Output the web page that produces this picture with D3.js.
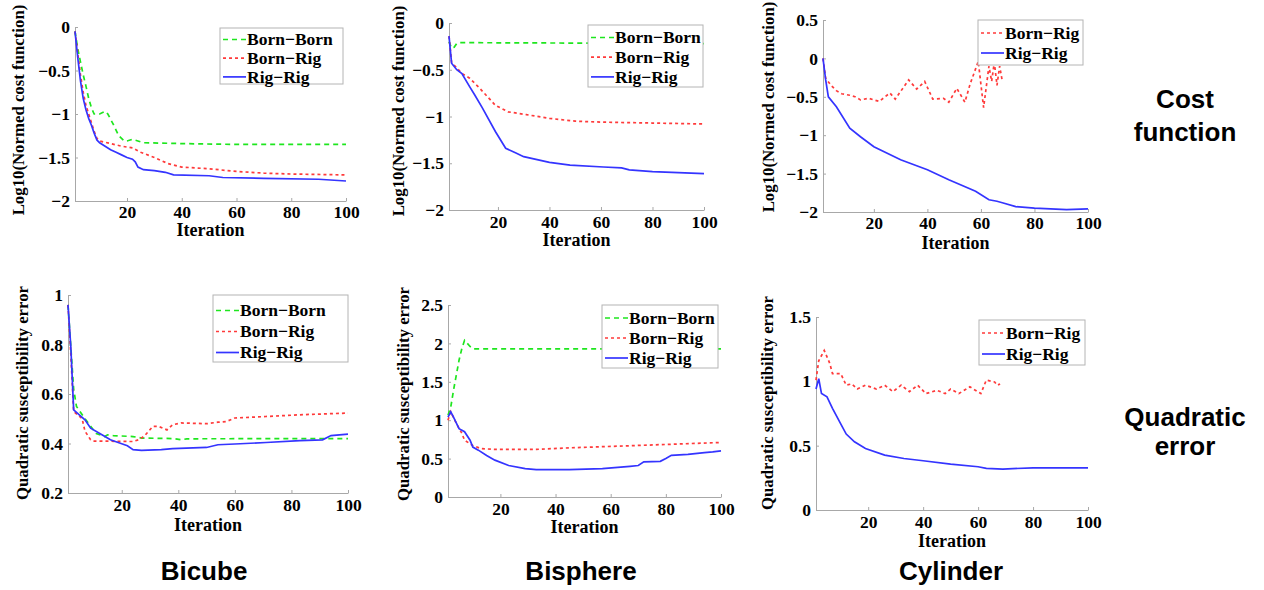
<!DOCTYPE html>
<html>
<head>
<meta charset="utf-8">
<script src="https://cdn.jsdelivr.net/npm/d3@7"></script>
<style>
  body { margin: 0; background: #fff; }
  svg { display: block; }
  .tick text { font-family: "Liberation Serif", serif; font-weight: bold; font-size: 17.5px; fill: #000; }
  .axis path, .axis line { stroke: #a8a8a8; }
</style>
</head>
<body>
<svg id="fig" width="1264" height="590"></svg>
<script>
// ---- data (iteration, value) ----
var bicubeCostBB = [[1,-0.05],[2,-0.25],[3,-0.4],[4,-0.55],[5,-0.68],[6,-0.82],[7,-0.93],[8,-1.0],[10,-1.0],[12,-0.97],[13,-1.0],[15,-1.12],[17,-1.25],[19,-1.31],[20,-1.31],[22,-1.29],[26,-1.33],[40,-1.34],[60,-1.35],[100,-1.35]];
var bicubeCostBR = [[1,-0.05],[2,-0.3],[3,-0.55],[4,-0.75],[5,-0.9],[6,-1.0],[7,-1.1],[8,-1.2],[9,-1.28],[10,-1.31],[14,-1.34],[18,-1.37],[22,-1.39],[25,-1.44],[30,-1.5],[35,-1.57],[40,-1.61],[50,-1.63],[60,-1.66],[70,-1.68],[80,-1.69],[100,-1.7]];
var bicubeCostRR = [[1,-0.05],[2,-0.35],[3,-0.62],[4,-0.82],[5,-0.95],[6,-1.05],[7,-1.13],[8,-1.22],[9,-1.3],[10,-1.33],[12,-1.37],[14,-1.41],[16,-1.44],[18,-1.47],[20,-1.5],[22,-1.52],[23,-1.55],[24,-1.61],[26,-1.64],[30,-1.65],[34,-1.67],[37,-1.7],[50,-1.71],[55,-1.73],[70,-1.74],[90,-1.75],[100,-1.77]];

var bisphereCostBB = [[1,-0.2],[2,-0.27],[3,-0.26],[4,-0.22],[5,-0.21],[100,-0.22]];
var bisphereCostBR = [[1,-0.14],[2,-0.42],[4,-0.48],[6,-0.54],[9,-0.59],[13,-0.7],[17,-0.82],[19,-0.88],[24,-0.95],[31,-0.98],[40,-1.02],[50,-1.05],[60,-1.06],[80,-1.07],[100,-1.08]];
var bisphereCostRR = [[1,-0.14],[2,-0.43],[4,-0.5],[6,-0.54],[9,-0.68],[11,-0.77],[14,-0.91],[19,-1.16],[23,-1.34],[27,-1.39],[30,-1.43],[40,-1.49],[48,-1.52],[61,-1.54],[68,-1.55],[71,-1.57],[80,-1.59],[100,-1.61]];

var cylinderCostBR = [[1,0],[2,-0.26],[4,-0.35],[6,-0.42],[8,-0.46],[11,-0.48],[13,-0.5],[15,-0.54],[18,-0.52],[22,-0.56],[26,-0.45],[28,-0.53],[33,-0.28],[36,-0.4],[39,-0.3],[42,-0.53],[46,-0.52],[48,-0.57],[51,-0.39],[54,-0.57],[56,-0.33],[59,-0.04],[61,-0.64],[63,-0.1],[64,-0.3],[65,-0.05],[66,-0.35],[67,-0.1],[68,-0.3]];
var cylinderCostRR = [[1,0],[2,-0.28],[3,-0.5],[6,-0.63],[11,-0.91],[15,-1.02],[20,-1.15],[30,-1.32],[40,-1.45],[48,-1.58],[58,-1.73],[63,-1.84],[66,-1.86],[68,-1.88],[73,-1.93],[80,-1.95],[86,-1.96],[92,-1.97],[100,-1.96]];

var bicubeErrBB = [[1,0.96],[3,0.62],[4,0.55],[7,0.5],[9,0.47],[11,0.44],[14,0.428],[15,0.435],[17,0.432],[24,0.428],[27,0.422],[38,0.42],[41,0.415],[43,0.419],[100,0.42]];
var bicubeErrBR = [[1,0.96],[2,0.76],[3,0.53],[6,0.5],[7,0.45],[9,0.415],[10,0.41],[24,0.408],[26,0.415],[28,0.43],[31,0.469],[33,0.469],[36,0.455],[38,0.476],[41,0.483],[50,0.48],[54,0.486],[57,0.489],[60,0.503],[71,0.509],[83,0.516],[100,0.523]];
var bicubeErrRR = [[1,0.96],[2,0.79],[3,0.536],[5,0.516],[7,0.496],[9,0.462],[13,0.435],[16,0.415],[20,0.399],[22,0.391],[24,0.375],[27,0.372],[34,0.375],[38,0.379],[50,0.384],[54,0.395],[60,0.398],[71,0.404],[83,0.412],[91,0.415],[94,0.432],[100,0.438]];

var bisphereErrBB = [[1,1.065],[2,1.17],[3,1.39],[5,1.78],[6,1.93],[7,2.04],[9,1.96],[10,1.93],[100,1.93]];
var bisphereErrBR = [[1,1.0],[2,1.11],[4,0.96],[6,0.83],[7,0.74],[10,0.67],[13,0.63],[18,0.62],[33,0.62],[45,0.64],[69,0.67],[100,0.71]];
var bisphereErrRR = [[1,1.04],[2,1.11],[3,1.04],[5,0.89],[7,0.85],[9,0.74],[10,0.65],[12,0.61],[15,0.54],[18,0.48],[23,0.41],[29,0.37],[33,0.357],[45,0.357],[57,0.37],[67,0.4],[70,0.41],[72,0.457],[78,0.465],[80,0.5],[82,0.543],[88,0.556],[94,0.578],[97,0.587],[100,0.6]];

var cylinderErrBR = [[1,1.01],[2,1.16],[4,1.24],[6,1.14],[7,1.06],[10,1.06],[12,0.97],[14,0.98],[16,0.94],[19,0.97],[23,0.94],[26,0.97],[29,0.92],[32,0.97],[35,0.92],[38,0.97],[41,0.905],[45,0.93],[48,0.905],[50,0.94],[53,0.905],[57,0.957],[61,0.905],[63,1.01],[66,0.995],[67,0.97],[68,0.98]];
var cylinderErrRR = [[1,0.94],[2,1.02],[3,0.905],[5,0.88],[7,0.79],[10,0.67],[12,0.59],[15,0.53],[19,0.478],[26,0.427],[33,0.4],[40,0.383],[50,0.357],[60,0.336],[63,0.323],[69,0.318],[80,0.328],[100,0.328]];

var xTicks = [20, 40, 60, 80, 100];
var costTicks = [-2, -1.5, -1, -0.5, 0];
var cylCostTicks = [-2, -1.5, -1, -0.5, 0, 0.5];
var bicubeErrTicks = [0.2, 0.4, 0.6, 0.8, 1];
var bisphereErrTicks = [0, 0.5, 1, 1.5, 2, 2.5];
var cylErrTicks = [0, 0.5, 1, 1.5];

var colNames = ["Bicube", "Bisphere", "Cylinder"];
var rowNames = [["Cost", "function"], ["Quadratic", "error"]];

var styles = {
  "Born\u2212Born": { color: "#1ee61e", dash: "5,4" },
  "Born\u2212Rig":  { color: "#ff3a3a", dash: "3,3" },
  "Rig\u2212Rig":   { color: "#3434ff", dash: null }
};

var costLabel = "Log10(Normed cost function)";
var errLabel = "Quadratic susceptibility error";

// tickB: baseline of x tick labels, itB: baseline of "Iteration"
// leg: box x, y, w, h, first row centre, row step
var panels = [
  { x0: 75, x1: 346, yTop: 27, yBot: 201, dom: [-2, 0], ticks: costTicks, ylab: costLabel, lx: 18, ly: 110, tickB: 218, itB: 236,
    leg: [220, 28, 123, 56, 39.5, 18.7], series: [["Born\u2212Born", bicubeCostBB], ["Born\u2212Rig", bicubeCostBR], ["Rig\u2212Rig", bicubeCostRR]] },
  { x0: 449, x1: 704, yTop: 23, yBot: 210, dom: [-2, 0], ticks: costTicks, ylab: costLabel, lx: 398, ly: 111, tickB: 228, itB: 246,
    leg: [588, 25, 115, 62, 37.5, 19.7], series: [["Born\u2212Born", bisphereCostBB], ["Born\u2212Rig", bisphereCostBR], ["Rig\u2212Rig", bisphereCostRR]] },
  { x0: 823, x1: 1088, yTop: 20, yBot: 212, dom: [-2, 0.5], ticks: cylCostTicks, ylab: costLabel, lx: 768, ly: 107, tickB: 229, itB: 249,
    leg: [978, 20, 105, 45, 33, 20], series: [["Born\u2212Rig", cylinderCostBR], ["Rig\u2212Rig", cylinderCostRR]] },
  { x0: 68, x1: 348, yTop: 295, yBot: 493, dom: [0.2, 1], ticks: bicubeErrTicks, ylab: errLabel, lx: 22, ly: 393, tickB: 511, itB: 531,
    leg: [213, 295, 135, 67, 310.5, 21], series: [["Born\u2212Born", bicubeErrBB], ["Born\u2212Rig", bicubeErrBR], ["Rig\u2212Rig", bicubeErrRR]] },
  { x0: 448, x1: 721, yTop: 305, yBot: 497, dom: [0, 2.5], ticks: bisphereErrTicks, ylab: errLabel, lx: 403, ly: 394, tickB: 515, itB: 533,
    leg: [602, 305, 116, 63, 318, 20], series: [["Born\u2212Born", bisphereErrBB], ["Born\u2212Rig", bisphereErrBR], ["Rig\u2212Rig", bisphereErrRR]] },
  { x0: 816, x1: 1088, yTop: 317, yBot: 510, dom: [0, 1.5], ticks: cylErrTicks, ylab: errLabel, lx: 767, ly: 403, tickB: 528, itB: 547,
    leg: [979, 320, 106, 45, 333, 21], series: [["Born\u2212Rig", cylinderErrBR], ["Rig\u2212Rig", cylinderErrRR]] }
];

var svg = d3.select("#fig");
var fmt = function(d) { return String(d).replace("-", "\u2212"); };

panels.forEach(function(p) {
  var x = d3.scaleLinear().domain([1, 100]).range([p.x0, p.x1]);
  var y = d3.scaleLinear().domain(p.dom).range([p.yBot, p.yTop]);
  var g = svg.append("g");

  var xa = g.append("g").attr("class", "axis")
    .attr("transform", "translate(0," + p.yBot + ")")
    .call(d3.axisBottom(x).tickValues(xTicks).tickSize(-3).tickSizeOuter(0).tickPadding(p.tickB - p.yBot));
  xa.selectAll("text").attr("dy", "0");

  g.append("g").attr("class", "axis")
    .attr("transform", "translate(" + p.x0 + ",0)")
    .call(d3.axisLeft(y).tickValues(p.ticks).tickFormat(fmt).tickSize(-3).tickSizeOuter(0).tickPadding(5));

  g.append("text")
    .attr("x", (p.x0 + p.x1) / 2).attr("y", p.itB)
    .attr("text-anchor", "middle")
    .style("font-family", "Liberation Serif, serif").style("font-weight", "bold").style("font-size", "18px")
    .text("Iteration");

  g.append("text")
    .attr("transform", "translate(" + p.lx + "," + p.ly + ") rotate(-90)")
    .attr("text-anchor", "middle").attr("dy", "0.35em")
    .style("font-family", "Liberation Serif, serif").style("font-weight", "bold").style("font-size", "16.8px")
    .text(p.ylab);

  var line = d3.line().x(function(d) { return x(d[0]); }).y(function(d) { return y(d[1]); });

  p.series.forEach(function(s) {
    var st = styles[s[0]];
    g.append("path").datum(s[1])
      .attr("d", line)
      .attr("fill", "none")
      .attr("stroke", st.color)
      .attr("stroke-width", 1.7)
      .attr("stroke-dasharray", st.dash);
  });

  // legend
  var L = p.leg;
  var lg = g.append("g");
  lg.append("rect").attr("x", L[0]).attr("y", L[1]).attr("width", L[2]).attr("height", L[3])
    .attr("fill", "#fff").attr("stroke", "#b4b4b4").attr("stroke-width", 1);
  p.series.forEach(function(s, i) {
    var st = styles[s[0]];
    var cy = L[4] + L[5] * i;
    lg.append("line").attr("x1", L[0] + 3).attr("x2", L[0] + 26).attr("y1", cy).attr("y2", cy)
      .attr("stroke", st.color).attr("stroke-width", 1.7).attr("stroke-dasharray", st.dash);
    lg.append("text").attr("x", L[0] + 27).attr("y", cy).attr("dy", "0.34em")
      .style("font-family", "Liberation Serif, serif").style("font-weight", "bold").style("font-size", "17.5px")
      .text(s[0]);
  });
});

// column and row titles
var colX = [204, 581, 951];
colNames.forEach(function(name, i) {
  svg.append("text").attr("x", colX[i]).attr("y", 580).attr("text-anchor", "middle")
    .style("font-family", "Liberation Sans, Arial, sans-serif").style("font-weight", "bold").style("font-size", "26px")
    .text(name);
});
var rowY = [[108, 141], [426, 455]];
rowNames.forEach(function(lines, i) {
  lines.forEach(function(t, j) {
    svg.append("text").attr("x", 1185).attr("y", rowY[i][j]).attr("text-anchor", "middle")
      .style("font-family", "Liberation Sans, Arial, sans-serif").style("font-weight", "bold").style("font-size", "26px")
      .text(t);
  });
});
</script>
</body>
</html>
